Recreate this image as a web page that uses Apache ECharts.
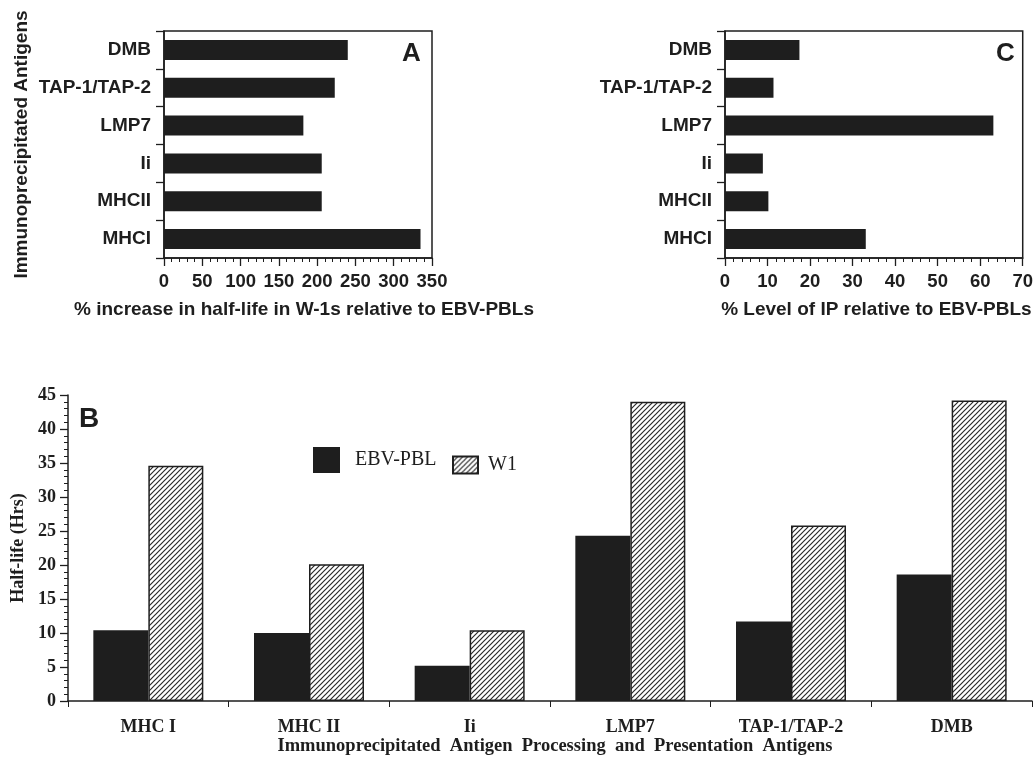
<!DOCTYPE html>
<html>
<head>
<meta charset="utf-8">
<script src="https://cdn.jsdelivr.net/npm/echarts@6/dist/echarts.min.js"></script>
<style>
html,body{margin:0;padding:0;background:#fff;}
#chart{width:1036px;height:763px;}
</style>
</head>
<body>
<div id="chart"></div>
<script>
// ---- data ----
const catsAC = ['MHCI', 'MHCII', 'Ii', 'LMP7', 'TAP-1/TAP-2', 'DMB'];
const increaseA = [335, 206, 206, 182, 223, 240];
const levelC = [33.1, 10.2, 8.9, 63.1, 11.4, 17.5];
const catsB = ['MHC I', 'MHC II', 'Ii', 'LMP7', 'TAP-1/TAP-2', 'DMB'];
const ebvPbl = [10.4, 10.0, 5.2, 24.3, 11.7, 18.6];
const w1 = [34.6, 20.1, 10.4, 44.0, 25.8, 44.2];
const axisA = {min: 0, max: 350, interval: 50};
const axisC = {min: 0, max: 70, interval: 10};
const axisB = {min: 0, max: 45, interval: 5};
const seriesNames = ['EBV-PBL', 'W1'];

// ---- styling ----
const INK = '#1e1e1e';
const SANS = '"Liberation Sans", Arial, sans-serif';
const SERIF = '"Liberation Serif", "Times New Roman", serif';

function hatchTile() {
  const s = 5;
  const c = document.createElement('canvas');
  c.width = s; c.height = s;
  const g = c.getContext('2d');
  g.fillStyle = '#fff';
  g.fillRect(0, 0, s, s);
  g.strokeStyle = '#2a2a2a';
  g.lineWidth = 1.2;
  g.beginPath();
  g.moveTo(0, s); g.lineTo(s, 0);
  g.moveTo(-1, 1); g.lineTo(1, -1);
  g.moveTo(s - 1, s + 1); g.lineTo(s + 1, s - 1);
  g.stroke();
  return c;
}
const hatch = {image: hatchTile(), repeat: 'repeat'};

const sansLabel = {color: INK, fontFamily: SANS, fontWeight: 'bold', fontSize: 18.5};
const serifLabel = {color: INK, fontFamily: SERIF, fontWeight: 'bold', fontSize: 18};

function valueAxisAC(gridIndex, cfg, name, pad) {
  return {
    type: 'value', gridIndex: gridIndex,
    min: cfg.min, max: cfg.max, interval: cfg.interval,
    name: name, nameLocation: 'middle', nameGap: 42,
    nameTextStyle: {color: INK, fontFamily: SANS, fontWeight: 'bold', fontSize: 19, padding: pad},
    axisLine: {show: true, lineStyle: {color: INK, width: 1.5}},
    axisTick: {show: true, length: 8, lineStyle: {color: INK, width: 1.3}},
    minorTick: {show: true, splitNumber: 5, length: 4, lineStyle: {color: INK, width: 1}},
    axisLabel: Object.assign({margin: 14}, sansLabel),
    splitLine: {show: false}
  };
}
function catAxisAC(gridIndex, name) {
  return {
    type: 'category', gridIndex: gridIndex, data: catsAC,
    name: name || '', nameLocation: 'middle', nameGap: 133, nameRotate: 90,
    nameTextStyle: {color: INK, fontFamily: SANS, fontWeight: 'bold', fontSize: 19},
    axisLine: {show: true, lineStyle: {color: INK, width: 1.5}},
    axisTick: {show: true, length: 8, lineStyle: {color: INK, width: 1.3}},
    axisLabel: Object.assign({margin: 13}, sansLabel, {fontSize: 19}),
    splitLine: {show: false}
  };
}

const option = {
  animation: false,
  backgroundColor: '#fff',
  title: [
    {text: 'A', left: 402, top: 41, padding: 0, textStyle: {color: INK, fontFamily: SANS, fontWeight: 'bold', fontSize: 26}},
    {text: 'C', left: 996, top: 41, padding: 0, textStyle: {color: INK, fontFamily: SANS, fontWeight: 'bold', fontSize: 26}},
    {text: 'B', left: 79, top: 405, padding: 0, textStyle: {color: INK, fontFamily: SANS, fontWeight: 'bold', fontSize: 28}}
  ],
  legend: [
    {data: [seriesNames[0]], left: 313, top: 447, itemWidth: 27, itemHeight: 26, icon: 'rect',
     selectedMode: false, padding: 0,
     textStyle: {color: INK, fontFamily: SERIF, fontSize: 20, padding: [0, 0, 0, 10]}},
    {data: [seriesNames[1]], left: 452, top: 455, itemWidth: 25, itemHeight: 17, icon: 'rect',
     selectedMode: false, padding: 0,
     textStyle: {color: INK, fontFamily: SERIF, fontSize: 20, padding: [0, 0, 0, 5]}}
  ],
  grid: [
    {left: 164, right: 1036 - 432, top: 31, bottom: 763 - 258, show: true, borderColor: INK, borderWidth: 1.5, backgroundColor: 'transparent'},
    {left: 725, right: 1036 - 1026, top: 31, bottom: 763 - 258, show: true, borderColor: INK, borderWidth: 1.5, backgroundColor: 'transparent'},
    {left: 68, right: 4, top: 395, bottom: 763 - 701}
  ],
  xAxis: [
    valueAxisAC(0, axisA, '% increase in half-life in W-1s relative to EBV-PBLs', [0, 0, 0, 12]),
    valueAxisAC(1, axisC, '% Level of IP relative to EBV-PBLs', [0, 0, 0, 5]),
    {
      type: 'category', gridIndex: 2, data: catsB,
      name: 'Immunoprecipitated  Antigen  Processing  and  Presentation  Antigens',
      nameLocation: 'middle', nameGap: 35,
      nameTextStyle: {color: INK, fontFamily: SERIF, fontWeight: 'bold', fontSize: 18.5, padding: [0, 0, 0, 10]},
      axisLine: {show: true, lineStyle: {color: INK, width: 1.5}},
      axisTick: {show: true, length: 6, lineStyle: {color: INK, width: 1}},
      axisLabel: Object.assign({margin: 17}, serifLabel),
      splitLine: {show: false}
    }
  ],
  yAxis: [
    catAxisAC(0, 'Immunoprecipitated Antigens'),
    catAxisAC(1, ''),
    {
      type: 'value', gridIndex: 2,
      min: axisB.min, max: axisB.max, interval: axisB.interval,
      name: 'Half-life (Hrs)', nameLocation: 'middle', nameGap: 36, nameRotate: 90,
      nameTextStyle: {color: INK, fontFamily: SERIF, fontWeight: 'bold', fontSize: 18},
      axisLine: {show: true, lineStyle: {color: INK, width: 1.5}},
      axisTick: {show: true, length: 8, lineStyle: {color: INK, width: 1.3}},
      minorTick: {show: true, splitNumber: 5, length: 4, lineStyle: {color: INK, width: 1}},
      axisLabel: Object.assign({margin: 12}, serifLabel),
      splitLine: {show: false}
    }
  ],
  series: [
    {type: 'bar', name: 'A', xAxisIndex: 0, yAxisIndex: 0, data: increaseA, barWidth: 20,
     itemStyle: {color: INK}, silent: true},
    {type: 'bar', name: 'C', xAxisIndex: 1, yAxisIndex: 1, data: levelC, barWidth: 20,
     itemStyle: {color: INK}, silent: true},
    {type: 'bar', name: seriesNames[0], xAxisIndex: 2, yAxisIndex: 2, data: ebvPbl, barWidth: 55, barGap: '0%',
     itemStyle: {color: INK}},
    {type: 'bar', name: seriesNames[1], xAxisIndex: 2, yAxisIndex: 2, data: w1, barWidth: 55, barGap: '0%',
     itemStyle: {color: hatch, borderColor: INK, borderWidth: 1.5}}
  ]
};

const chart = echarts.init(document.getElementById('chart'), null, {renderer: 'canvas'});
chart.setOption(option);
</script>
</body>
</html>
